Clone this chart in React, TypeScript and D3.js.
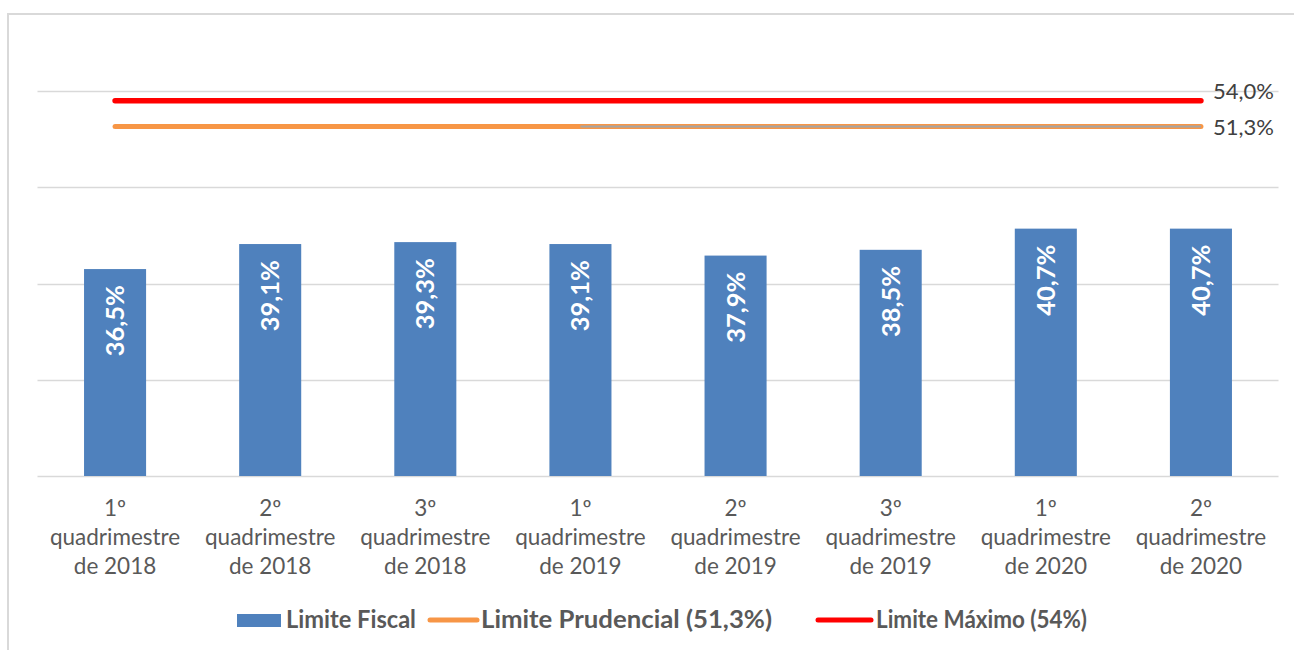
import React from 'react';
import * as d3 from 'd3';

const categories = [
  ['1º', 'quadrimestre', 'de 2018'],
  ['2º', 'quadrimestre', 'de 2018'],
  ['3º', 'quadrimestre', 'de 2018'],
  ['1º', 'quadrimestre', 'de 2019'],
  ['2º', 'quadrimestre', 'de 2019'],
  ['3º', 'quadrimestre', 'de 2019'],
  ['1º', 'quadrimestre', 'de 2020'],
  ['2º', 'quadrimestre', 'de 2020'],
];
const limiteFiscal = [36.5, 39.1, 39.3, 39.1, 37.9, 38.5, 40.7, 40.7];
const limitePrudencial = [51.3, 51.3, 51.3, 51.3, 51.3, 51.3, 51.3, 51.3];
const limiteMaximo = [54, 54, 54, 54, 54, 54, 54, 54];
// second (grey) prudencial trace, only present from the 4th period on
const prudencialExtra: (number | null)[] = [null, null, null, 51.3, 51.3, 51.3, 51.3, 51.3];
const yTicks = [15, 25, 35, 45, 55];

const W = 1294;
const H = 650;
const FONT = 'Lato, "Open Sans", sans-serif';

const fmt = (v: number) => v.toFixed(1).replace('.', ',') + '%';

export default function App() {
  const keys = categories.map((_, i) => String(i));
  const x = d3.scaleBand().domain(keys).range([37.5, 1278.5]).paddingInner(0.6).paddingOuter(0.3);
  const y = d3.scaleLinear().domain([15, 55]).range([476, 91]);
  const cx = (i: number) => (x(String(i)) as number) + x.bandwidth() / 2;

  const line = d3.line<number>().x((_, i) => cx(i)).y(d => y(d));
  const extraLine = d3
    .line<number | null>()
    .defined(d => d != null)
    .x((_, i) => cx(i))
    .y(d => y(d as number));

  return (
    <svg width={W} height={H} style={{ position: 'absolute', left: 0, top: 0, background: '#fff' }}>
      <rect x={8} y={14} width={1300} height={700} fill="#fff" stroke="#d9d9d9" strokeWidth={2} />

      {yTicks.map(t => (
        <line key={t} x1={37.5} x2={1278.5} y1={Math.round(y(t)) + 0.5} y2={Math.round(y(t)) + 0.5} stroke="#d9d9d9" strokeWidth={1.5} />
      ))}

      {limiteFiscal.map((v, i) => (
        <g key={i}>
          <rect x={x(String(i))} y={y(v)} width={x.bandwidth()} height={y(15) - y(v)} fill="#4f81bd" />
          <text
            transform={`translate(${cx(i) + 9},${y(v) + 16}) rotate(-90)`}
            textAnchor="end"
            fill="#fff"
            fontFamily={FONT}
            fontWeight="bold"
            fontSize={25.5}
          >
            {fmt(v)}
          </text>
        </g>
      ))}

      <path d={line(limitePrudencial) || ''} fill="none" stroke="#f79646" strokeWidth={5} strokeLinecap="round" />
      <path d={extraLine(prudencialExtra) || ''} fill="none" stroke="#a5a5a5" strokeWidth={2} />
      <path d={line(limiteMaximo) || ''} fill="none" stroke="#ff0000" strokeWidth={5.5} strokeLinecap="round" />

      <text x={cx(7) + 12} y={y(limiteMaximo[7]) - 2} fill="#404040" fontFamily={FONT} fontSize={22}>
        {fmt(limiteMaximo[7])}
      </text>
      <text x={cx(7) + 12} y={y(limitePrudencial[7]) + 8} fill="#404040" fontFamily={FONT} fontSize={22}>
        {fmt(limitePrudencial[7])}
      </text>

      {categories.map((lines, i) => (
        <text key={i} x={cx(i)} textAnchor="middle" fill="#595959" fontFamily={FONT} fontSize={22.5}>
          {lines.map((l, j) => (
            <tspan key={j} x={cx(i)} y={516 + j * 29}>
              {l}
            </tspan>
          ))}
        </text>
      ))}

      <g fontFamily={FONT} fontSize={24} fontWeight="bold" fill="#595959">
        <rect x={237} y={614} width={44} height={13} fill="#4f81bd" />
        <text x={286} y={628} textLength={130} lengthAdjust="spacingAndGlyphs">Limite Fiscal</text>
        <line x1={430} x2={477} y1={620} y2={620} stroke="#f79646" strokeWidth={5} strokeLinecap="round" />
        <text x={481} y={628} textLength={291} lengthAdjust="spacingAndGlyphs">Limite Prudencial (51,3%)</text>
        <line x1={818} x2={871} y1={620} y2={620} stroke="#ff0000" strokeWidth={5} strokeLinecap="round" />
        <text x={876} y={628} textLength={211} lengthAdjust="spacingAndGlyphs">Limite Máximo (54%)</text>
      </g>
    </svg>
  );
}
